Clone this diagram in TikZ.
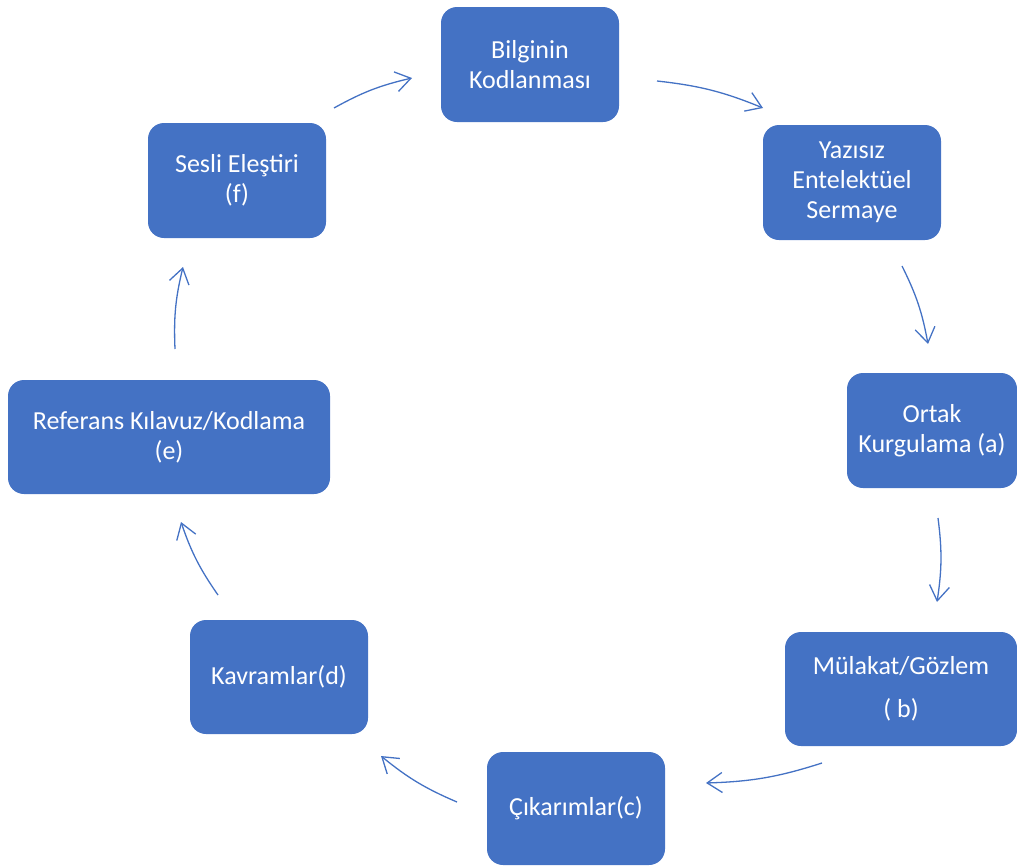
\documentclass[tikz,border=0pt]{standalone}
\usepackage{fontspec}
\setmainfont{Carlito}
\usetikzlibrary{arrows.meta}
\definecolor{boxblue}{HTML}{4472C4}
\tikzset{
  stepbox/.style={fill=boxblue, rounded corners=16pt, text=white, align=center,
    inner sep=0pt, font=\fontsize{26}{30}\selectfont},
  flow/.style={draw=boxblue, line width=1.3pt,
    -{Straight Barb[length=15pt,width=20pt,line width=1.3pt]}, bend left=8}
}
\begin{document}
\begin{tikzpicture}[x=1pt,y=1pt]
\useasboundingbox (0,0) rectangle (1017,-865);
\node[stepbox, minimum width=178pt, minimum height=115pt] (bil) at (530,-64.5) {Bilginin\\Kodlanması};
\node[stepbox, minimum width=178pt, minimum height=115pt] (yaz) at (852,-182.5) {Yazısız\\Entelektüel\\Sermaye};
\node[stepbox, minimum width=170pt, minimum height=115pt] (ort) at (932,-430.5) {Ortak\\Kurgulama (a)};
\node[stepbox, minimum width=232pt, minimum height=114pt] (mul) at (901,-689) {Mülakat/Gözlem\\[13pt]( b)};
\node[stepbox, minimum width=178pt, minimum height=113pt] (cik) at (576,-808.5) {Çıkarımlar(c)};
\node[stepbox, minimum width=178pt, minimum height=114pt] (kav) at (279,-677) {Kavramlar(d)};
\node[stepbox, minimum width=322pt, minimum height=114pt] (ref) at (169,-437) {Referans Kılavuz/Kodlama\\(e)};
\node[stepbox, minimum width=178pt, minimum height=115pt] (ses) at (237,-180.5) {Sesli Eleştiri\\(f)};
% arrow end points
\coordinate (s1) at (334,-108); \coordinate (e1) at (412,-78);
\coordinate (s2) at (657,-81);  \coordinate (e2) at (763,-108);
\coordinate (s3) at (902,-266); \coordinate (e3) at (928,-344);
\coordinate (s4) at (938,-518); \coordinate (e4) at (937,-602);
\coordinate (s5) at (822,-763); \coordinate (e5) at (706,-783);
\coordinate (s6) at (457,-802); \coordinate (e6) at (381,-756);
\coordinate (s7) at (218,-595); \coordinate (e7) at (181,-522);
\coordinate (s8) at (175,-349); \coordinate (e8) at (183,-267);
\draw[flow] (s1) to (e1);
\draw[flow] (s2) to (e2);
\draw[flow] (s3) to (e3);
\draw[flow] (s4) to (e4);
\draw[flow] (s5) to (e5);
\draw[flow] (s6) to (e6);
\draw[flow] (s7) to (e7);
\draw[flow] (s8) to (e8);
\end{tikzpicture}
\end{document}
